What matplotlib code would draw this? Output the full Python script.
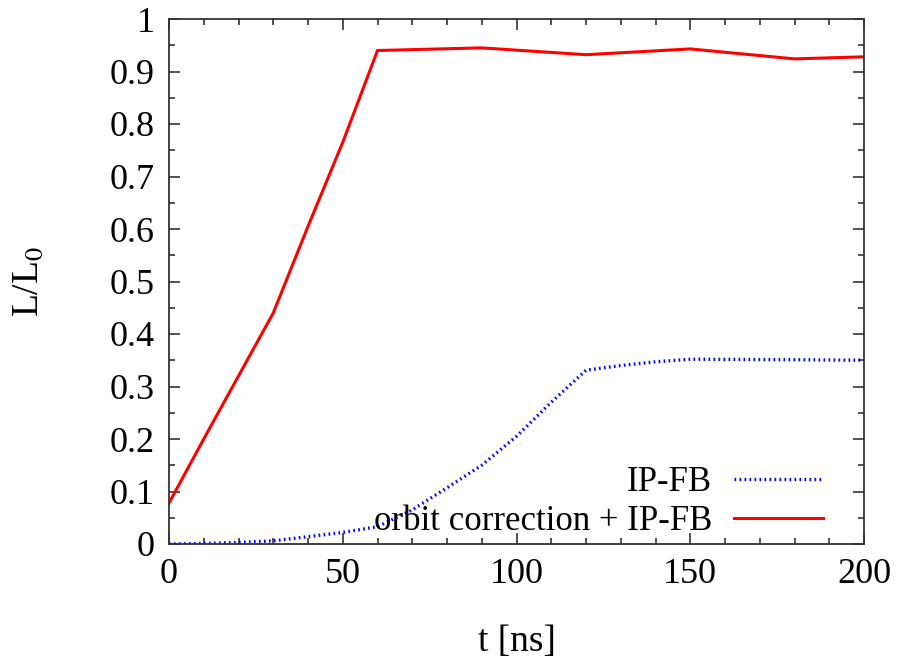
import numpy as np
import matplotlib
matplotlib.use("Agg")
import matplotlib.pyplot as plt
from matplotlib.ticker import MultipleLocator

############################## DATA ##############################
t_ns = [0, 10, 20, 30, 40, 50, 60, 90, 120, 150, 180, 200]
lum_orbit_fb = [0.078, 0.20, 0.32, 0.44, 0.605, 0.765, 0.94, 0.945, 0.932, 0.943, 0.924, 0.928]

t_fb = [0, 10, 20, 30, 40, 50, 60, 70, 80, 90, 100, 110, 120, 130, 140, 150, 180, 200]
lum_ipfb = [0.0, 0.001, 0.003, 0.006, 0.014, 0.022, 0.033, 0.065, 0.107, 0.15, 0.205, 0.27, 0.331,
            0.34, 0.347, 0.352, 0.351, 0.35]

y_ticks = [0, 0.1, 0.2, 0.3, 0.4, 0.5, 0.6, 0.7, 0.8, 0.9, 1]
y_ticklabels = ["0", "0.1", "0.2", "0.3", "0.4", "0.5", "0.6", "0.7", "0.8", "0.9", "1"]

label_ipfb = "IP-FB"
label_orbit = "orbit correction + IP-FB"
################################ FIN ################################

plt.rcParams['font.family'] = ['Liberation Serif', 'DejaVu Serif']
plt.rcParams['mathtext.fontset'] = 'stix'

fig = plt.figure(figsize=(8.97, 6.57), dpi=100)
ax = fig.add_axes([169/897, 1 - 544/657, (864-169)/897, (544-19)/657])

ax.plot(t_fb, lum_ipfb, color="#0000ff", lw=2.4, linestyle=(0, (0.5, 1.0)),
        dash_capstyle="butt", label=label_ipfb)
ax.plot(t_ns, lum_orbit_fb, color="#ff0000", lw=2.2, label=label_orbit)

ax.set_xlim(0, 200)
ax.set_ylim(0, 1)
ax.xaxis.set_major_locator(MultipleLocator(50))
ax.xaxis.set_minor_locator(MultipleLocator(10))
ax.set_yticks(y_ticks)
ax.set_yticklabels(y_ticklabels)
ax.yaxis.set_minor_locator(MultipleLocator(0.05))

ax.tick_params(which="both", direction="in", top=True, right=True, labelsize=26, width=1.2, color="#333333")
ax.tick_params(which="major", length=8, pad=10)
ax.tick_params(which="minor", length=4)
for s in ax.spines.values():
    s.set_linewidth(1.3)
    s.set_color("#333333")

ax.set_xlabel("t [ns]", fontsize=27, labelpad=24)
ax.set_ylabel(r"L/L$_0$", fontsize=27, labelpad=46)

leg = ax.legend(loc="lower right", bbox_to_anchor=(0.941, 0.012), frameon=False, fontsize=25,
                markerfirst=False, handlelength=2.55, handletextpad=0.65, labelspacing=0.16,
                borderpad=0.0, borderaxespad=0.0)

fig.savefig("out.png", dpi=100)
